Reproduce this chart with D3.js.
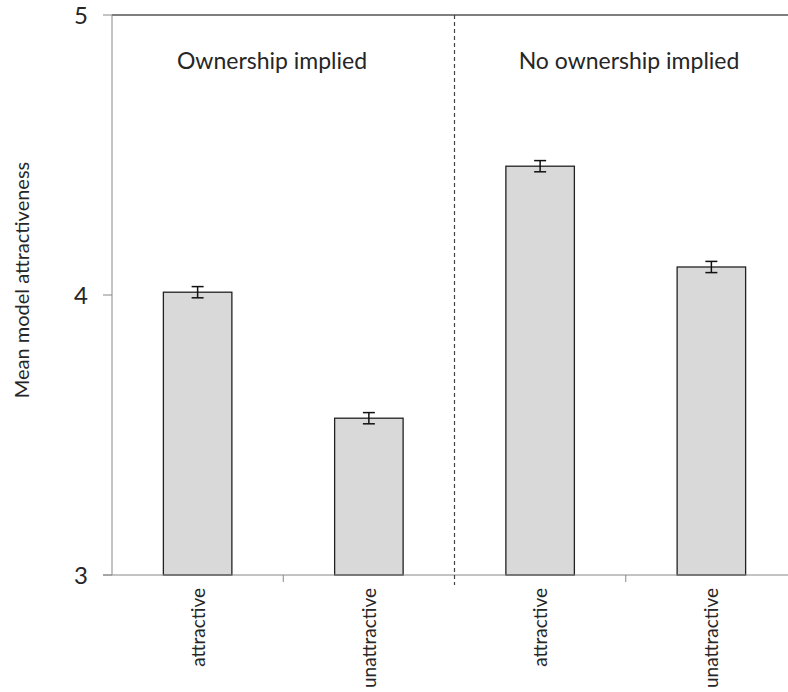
<!DOCTYPE html>
<html><head><meta charset="utf-8">
<script src="https://cdn.jsdelivr.net/npm/d3@7"></script>
<style>body{margin:0;background:#fff}svg{display:block}text{font-family:Lato,"Open Sans",sans-serif;fill:#262626}</style>
</head><body>
<svg id="c" width="788" height="692"></svg>
<script>
const categories = ["attractive","unattractive","attractive","unattractive"];
const means = [4.01, 3.56, 4.46, 4.10];
const errors = [0.02, 0.02, 0.02, 0.02];
const groups = ["Ownership implied","No ownership implied"];
const yTicks = [3,4,5];

const svg = d3.select("#c");
const L = 112, R = 797, T = 15, B = 575;
const x = d3.scaleBand().domain(d3.range(categories.length)).range([L,R]).paddingInner(0.6).paddingOuter(0.3);
const xb = d3.scaleBand().domain(d3.range(categories.length)).range([L,R]);
const y = d3.scaleLinear().domain([3,5]).range([B,T]);
const axisCol = "#888";

svg.append("line").attr("x1",L).attr("x2",788).attr("y1",T).attr("y2",T).attr("stroke","#555").attr("stroke-width",1.5);

svg.selectAll("rect.bar").data(means).join("rect")
  .attr("x",(d,i)=>x(i)).attr("width",x.bandwidth())
  .attr("y",d=>y(d)).attr("height",d=>B-y(d))
  .attr("fill","#d9d9d9").attr("stroke","#222").attr("stroke-width",1.3);

const eg = svg.append("g").attr("stroke","#111").attr("stroke-width",1.5);
means.forEach((m,i)=>{
  const cx = x(i)+x.bandwidth()/2;
  eg.append("line").attr("x1",cx).attr("x2",cx).attr("y1",y(m+errors[i])).attr("y2",y(m-errors[i]));
  eg.append("line").attr("x1",cx-6).attr("x2",cx+6).attr("y1",y(m+errors[i])).attr("y2",y(m+errors[i]));
  eg.append("line").attr("x1",cx-6).attr("x2",cx+6).attr("y1",y(m-errors[i])).attr("y2",y(m-errors[i]));
});

svg.append("line").attr("x1",L).attr("x2",L).attr("y1",T).attr("y2",B).attr("stroke",axisCol);
yTicks.forEach(t=>{
  svg.append("line").attr("x1",L-9).attr("x2",L).attr("y1",y(t)).attr("y2",y(t)).attr("stroke",axisCol);
  svg.append("text").attr("x",L-24).attr("y",y(t)).attr("dy","0.36em").attr("text-anchor","end").attr("font-size",24).text(t);
});
svg.append("line").attr("x1",L-9).attr("x2",788).attr("y1",B).attr("y2",B).attr("stroke",axisCol);
[1,3].forEach(i=>{
  svg.append("line").attr("x1",xb(i)).attr("x2",xb(i)).attr("y1",B).attr("y2",B+7).attr("stroke",axisCol);
});
svg.append("line").attr("x1",xb(2)).attr("x2",xb(2)).attr("y1",T).attr("y2",B+10)
  .attr("stroke","#444").attr("stroke-dasharray","4,3").attr("stroke-width",1.2);

categories.forEach((c,i)=>{
  const cx = x(i)+x.bandwidth()/2;
  svg.append("text").attr("transform",`translate(${cx+7},588) rotate(-90)`)
    .attr("text-anchor","end").attr("font-size",19).text(c);
});

const titleX = [272, 629];
groups.forEach((g,k)=>{
  svg.append("text").attr("x",titleX[k]).attr("y",69).attr("text-anchor","middle").attr("font-size",23).text(g);
});

svg.append("text").attr("transform","translate(29,280) rotate(-90)").attr("text-anchor","middle").attr("font-size",20).text("Mean model attractiveness");
</script>
</body></html>
